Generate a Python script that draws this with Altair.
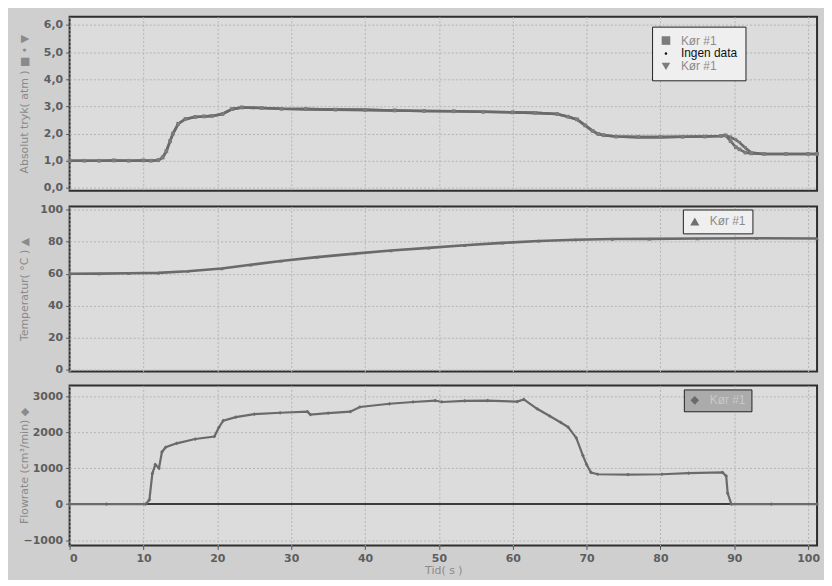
import altair as alt
import pandas as pd

# ---------------- data ----------------
# Panel 1: absolute pressure (atm)
time_p = [0, 2, 4, 6, 8, 10, 11, 12, 12.6, 13.1, 13.6, 14.0, 14.7, 15.7, 17.0, 18.2, 19.3, 20.7,
          22.0, 23.3, 26, 28.7, 32, 36, 40, 44, 48, 52, 56, 60, 63, 66, 67.5, 68.7, 69.8, 70.8,
          71.6, 72.3, 74, 77, 80, 83, 86, 88.2, 88.8, 89.5, 90.2, 90.7, 91.5, 92.3, 94, 97, 100, 101.2]
pressure_a = [1.0, 1.0, 1.0, 1.01, 1.0, 1.01, 1.0, 1.02, 1.12, 1.35, 1.72, 2.0, 2.36, 2.54, 2.61, 2.63,
              2.65, 2.72, 2.9, 2.96, 2.94, 2.91, 2.9, 2.88, 2.87, 2.85, 2.83, 2.82, 2.8, 2.78, 2.76,
              2.72, 2.62, 2.52, 2.3, 2.1, 1.98, 1.94, 1.89, 1.87, 1.87, 1.88, 1.89, 1.91, 1.93, 1.72, 1.5,
              1.42, 1.3, 1.27, 1.25, 1.25, 1.25, 1.25]
pressure_c = [1.0, 1.0, 1.0, 1.01, 1.0, 1.01, 1.0, 1.02, 1.12, 1.35, 1.72, 2.0, 2.36, 2.54, 2.61, 2.63,
              2.65, 2.72, 2.9, 2.96, 2.94, 2.91, 2.9, 2.88, 2.87, 2.85, 2.83, 2.82, 2.8, 2.78, 2.76,
              2.72, 2.62, 2.52, 2.3, 2.1, 1.98, 1.94, 1.89, 1.87, 1.87, 1.88, 1.89, 1.91, 1.93, 1.87, 1.77,
              1.67, 1.47, 1.3, 1.25, 1.25, 1.25, 1.25]

# Panel 2: temperature (°C)
time_t = [0, 4, 8, 12, 16, 20.6, 24.5, 28.6, 33.5, 38.6, 43.5, 48.6, 53.5, 58.6, 63.5, 68.5,
          73.5, 78.5, 85, 93, 101.2]
temp = [60, 60.1, 60.3, 60.6, 61.6, 63.3, 65.6, 68.0, 70.4, 72.6, 74.5, 76.2, 77.8, 79.3, 80.5,
        81.3, 81.7, 81.8, 82.0, 82.2, 82.0]

# Panel 3: flow
time_f = [0, 5, 10.3, 10.8, 11.2, 11.6, 12.1, 12.5, 13.0, 14.5, 17.0, 19.6, 20.2, 20.8, 22.5, 25.0,
          28.5, 32.2, 32.6, 35, 38.0, 39.3, 43.3, 46.5, 49.5, 50.4, 53.5, 56.6, 60.6, 61.5, 63.3,
          65.0, 66.5, 67.5, 68.6, 69.5, 70.0, 70.6, 71.5, 75.6, 80.2, 83.8, 88.4, 88.9, 89.1, 89.6,
          95, 101.2]
flow = [0, 0, 0, 120, 850, 1100, 1000, 1450, 1580, 1690, 1810, 1880, 2130, 2320, 2420, 2500,
        2540, 2570, 2490, 2530, 2570, 2700, 2790, 2840, 2880, 2840, 2870, 2880, 2850, 2910, 2650,
        2450, 2270, 2140, 1840, 1350, 1100, 880, 830, 820, 830, 860, 880, 780, 300, 0,
        0, 0]

x_ticks = [0, 10, 20, 30, 40, 50, 60, 70, 80, 90, 100]
p_ticks = [0, 1, 2, 3, 4, 5, 6]
t_ticks = [0, 20, 40, 60, 80, 100]
f_ticks = [-1000, 0, 1000, 2000, 3000]
zero_level = [0]

# ---------------- tables ----------------
df_p = pd.concat([
    pd.DataFrame({"t": time_p, "v": pressure_a, "serie": "A"}),
    pd.DataFrame({"t": time_p, "v": pressure_c, "serie": "C"}),
])
df_t = pd.DataFrame({"t": time_t, "v": temp, "serie": "Kør #1"})
df_f = pd.DataFrame({"t": time_f, "v": flow, "serie": "Kør #1"})
df_zero = pd.DataFrame({"v": zero_level})

W = 752
X_DOMAIN = [0, 101.2]
LINE_COLOR = "#6a6a6a"
LEGEND_FONT = "Liberation Sans"


def x_enc(show):
    if show:
        ax = alt.Axis(values=x_ticks, title="Tid( s )", format="d", grid=True, tickSize=4,
                      labelPadding=3, titlePadding=1)
    else:
        ax = alt.Axis(values=x_ticks, labels=False, ticks=False, title=None, grid=True)
    return alt.X("t:Q", scale=alt.Scale(domain=X_DOMAIN, nice=False, zero=False), axis=ax)


def y_axis(title, values, label_expr=None, fmt=None):
    kw = dict(values=values, title=title, titleX=-40, grid=True)
    if label_expr:
        kw["labelExpr"] = label_expr
    if fmt:
        kw["format"] = fmt
    return alt.Axis(**kw)


# ---------------- panel 1 ----------------
y1 = alt.Y("v:Q", scale=alt.Scale(domain=[-0.1, 6.3], nice=False, zero=False),
           axis=y_axis("Absolut tryk( atm )  ■  •  ▼", p_ticks,
                       label_expr="replace(format(datum.value, '.1f'), '.', ',')"))
line1 = alt.Chart(df_p).mark_line(strokeWidth=2.6, color=LINE_COLOR).encode(
    x=x_enc(False), y=y1, detail="serie:N")
dot_path = "M-0.3,0A0.3,0.3,0,1,1,0.3,0A0.3,0.3,0,1,1,-0.3,0Z"
leg1 = alt.Legend(title=None, orient="none", legendX=586, legendY=10, fillColor="#efefef",
                  strokeColor="#222222", padding=8, rowPadding=1,
                  labelExpr="datum.value == 'B' ? 'Ingen data' : 'Kør #1'",
                  labelColor=alt.ExprRef("datum.value == 'B' ? '#111111' : '#8c8c8c'"),
                  labelFontSize=12, labelFont=LEGEND_FONT, symbolSize=75, labelOffset=9,
                  symbolStrokeWidth=0)
pts1 = alt.Chart(df_p).mark_point(filled=True, size=14, opacity=1).encode(
    x=x_enc(False), y=y1,
    shape=alt.Shape("serie:N", scale=alt.Scale(domain=["A", "B", "C"],
                                               range=["square", dot_path, "triangle-down"]),
                    legend=leg1),
    color=alt.Color("serie:N", scale=alt.Scale(domain=["A", "B", "C"],
                                               range=["#7c7c7c", "#111111", "#7c7c7c"]),
                    legend=leg1),
)
panel1 = alt.layer(line1, pts1).properties(width=W, height=175)

# ---------------- panel 2 ----------------
y2 = alt.Y("v:Q", scale=alt.Scale(domain=[-1, 102], nice=False, zero=False),
           axis=y_axis("Temperatur( °C )  ▲", t_ticks, fmt="d"))
line2 = alt.Chart(df_t).mark_line(strokeWidth=2.6, color=LINE_COLOR).encode(x=x_enc(False), y=y2)
leg2 = alt.Legend(title=None, orient="none", legendX=617, legendY=3, fillColor="#efefef",
                  strokeColor="#222222", padding=6, labelFontSize=12, labelFont=LEGEND_FONT,
                  labelColor="#8c8c8c", symbolSize=85, labelOffset=9, symbolStrokeWidth=0)
pts2 = alt.Chart(df_t).mark_point(filled=True, size=14, opacity=1).encode(
    x=x_enc(False), y=y2,
    shape=alt.Shape("serie:N", scale=alt.Scale(domain=["Kør #1"], range=["triangle-up"]), legend=leg2),
    color=alt.Color("serie:N", scale=alt.Scale(domain=["Kør #1"], range=["#6f6f6f"]), legend=leg2),
)
panel2 = alt.layer(line2, pts2).properties(width=W, height=166)

# ---------------- panel 3 ----------------
y3 = alt.Y("v:Q", scale=alt.Scale(domain=[-1150, 3300], nice=False, zero=False),
           axis=y_axis("Flowrate (cm³/min)  ◆", f_ticks, fmt="d"))
zero3 = alt.Chart(df_zero).mark_rule(color="#3c3c3c", strokeWidth=2).encode(y=y3)
line3 = alt.Chart(df_f).mark_line(strokeWidth=2.2, color=LINE_COLOR).encode(x=x_enc(True), y=y3)
leg3 = alt.Legend(title=None, orient="none", legendX=618, legendY=4, fillColor="#ababab",
                  strokeColor="#222222", padding=5, labelFontSize=12, labelFont=LEGEND_FONT,
                  labelColor="#c9c9c9", symbolSize=75, labelOffset=9, symbolStrokeWidth=0)
pts3 = alt.Chart(df_f).mark_point(filled=True, size=14, opacity=1).encode(
    x=x_enc(True), y=y3,
    shape=alt.Shape("serie:N", scale=alt.Scale(domain=["Kør #1"], range=["diamond"]), legend=leg3),
    color=alt.Color("serie:N", scale=alt.Scale(domain=["Kør #1"], range=["#6a6a6a"]), legend=leg3),
)
panel3 = alt.layer(zero3, line3, pts3).properties(width=W, height=161)

chart = (
    alt.vconcat(panel1, panel2, panel3, spacing=8)
    .resolve_scale(color="independent", shape="independent")
    .resolve_legend(color="independent", shape="independent")
    .properties(padding={"left": 10, "top": 6, "right": 0, "bottom": 2}, background="#cfcfcf")
    .configure_view(stroke="#2e2e2e", strokeWidth=2, fill="#dcdcdc")
    .configure_axis(
        domain=False, gridColor="#b4b4b4", gridDash=[2, 2], gridWidth=1,
        tickColor="#555555", tickSize=4, labelPadding=3,
        labelFont="DejaVu Sans", labelFontSize=11, labelFontWeight="bold", labelColor="#5e5e5e",
        titleFont="DejaVu Sans", titleFontSize=11, titleFontWeight="normal", titleColor="#8a8a8a",
    )
)

chart.save("out.html", embed_options={"renderer": "svg", "actions": False})
